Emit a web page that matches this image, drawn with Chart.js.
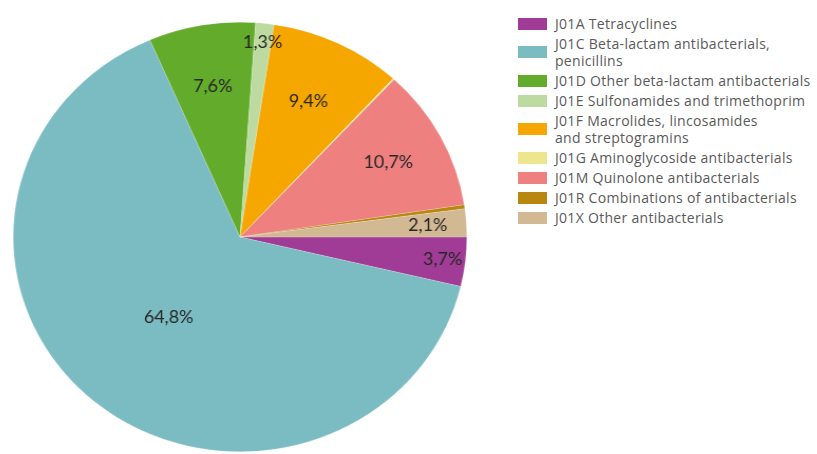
<!DOCTYPE html>
<html>
<head>
<meta charset="utf-8">
<script src="https://cdn.jsdelivr.net/npm/chart.js@4.4.1/dist/chart.umd.min.js"></script>
<style>
    html, body { margin: 0; padding: 0; background: #fff; }
    body { width: 817px; height: 454px; position: relative; overflow: hidden; }
    #pieWrap {
        position: absolute; left: 25px; top: 22px; width: 430px; height: 430px;
        transform: scaleX(1.056); transform-origin: 50% 50%;
    }
    #legend {
        position: absolute; left: 518px; top: 15px;
        font-family: 'Open Sans', sans-serif; font-size: 14px; color: #5a5a5a;
        letter-spacing: 0.3px;
    }
    .item { display: flex; align-items: center; margin-bottom: 3px; line-height: 17px; white-space: nowrap; }
    .box { width: 29px; height: 12px; margin-right: 8px; flex: none; }
</style>
</head>
<body>
<div id="pieWrap"><canvas id="myChart"></canvas></div>
<div id="legend"></div>
<script>
// ATC groups, share of total antibacterial use (%)
const categories = [
    ['J01A Tetracyclines'],
    ['J01C Beta-lactam antibacterials,', 'penicillins'],
    ['J01D Other beta-lactam antibacterials'],
    ['J01E Sulfonamides and trimethoprim'],
    ['J01F Macrolides, lincosamides', 'and streptogramins'],
    ['J01G Aminoglycoside antibacterials'],
    ['J01M Quinolone antibacterials'],
    ['J01R Combinations of antibacterials'],
    ['J01X Other antibacterials']
];
const shares = [3.7, 64.8, 7.6, 1.3, 9.4, 0.1, 10.7, 0.3, 2.1];
const colors = ['#a03c95', '#7bbcc3', '#63ab2b', '#bddba1', '#f5a700', '#ede68e', '#ee8080', '#b8870f', '#d3b894'];

// how far out along the slice each percentage sits (fraction of radius)
const labelRadius = [0.90, 0.49, 0.71, 0.91, 0.70, 0, 0.74, 0, 0.83];

const percentLabels = {
    id: 'percentLabels',
    afterDatasetsDraw(chart) {
        const ctx = chart.ctx;
        const meta = chart.getDatasetMeta(0);
        ctx.save();
        ctx.font = '17px Lato, sans-serif';
        ctx.fillStyle = '#262626';
        ctx.textAlign = 'center';
        ctx.textBaseline = 'middle';
        meta.data.forEach((arc, i) => {
            const v = shares[i];
            if (v < 1) return;
            const p = arc.getProps(['x', 'y', 'startAngle', 'endAngle', 'outerRadius'], true);
            const mid = (p.startAngle + p.endAngle) / 2;
            const r = p.outerRadius * labelRadius[i];
            const text = v.toFixed(1).replace('.', ',') + '%';
            ctx.fillText(text, p.x + Math.cos(mid) * r, p.y + Math.sin(mid) * r);
        });
        ctx.restore();
    }
};

const ctx = document.getElementById('myChart').getContext('2d');
new Chart(ctx, {
    type: 'pie',
    data: {
        labels: categories.map(c => c.join(' ')),
        datasets: [{
            data: shares,
            backgroundColor: colors,
            borderColor: 'rgba(255, 255, 255, 0.35)',
            borderWidth: 0.5
        }]
    },
    options: {
        responsive: true,
        maintainAspectRatio: false,
        animation: false,
        rotation: 90,
        layout: { padding: 0 },
        plugins: {
            legend: { display: false },
            tooltip: { enabled: false }
        }
    },
    plugins: [percentLabels]
});

// legend on the right, one entry per group
const legend = document.getElementById('legend');
categories.forEach((lines, i) => {
    const item = document.createElement('div');
    item.className = 'item';
    const box = document.createElement('span');
    box.className = 'box';
    box.style.background = colors[i];
    const text = document.createElement('span');
    text.innerHTML = lines.join('<br>');
    item.appendChild(box);
    item.appendChild(text);
    legend.appendChild(item);
});
</script>
</body>
</html>
